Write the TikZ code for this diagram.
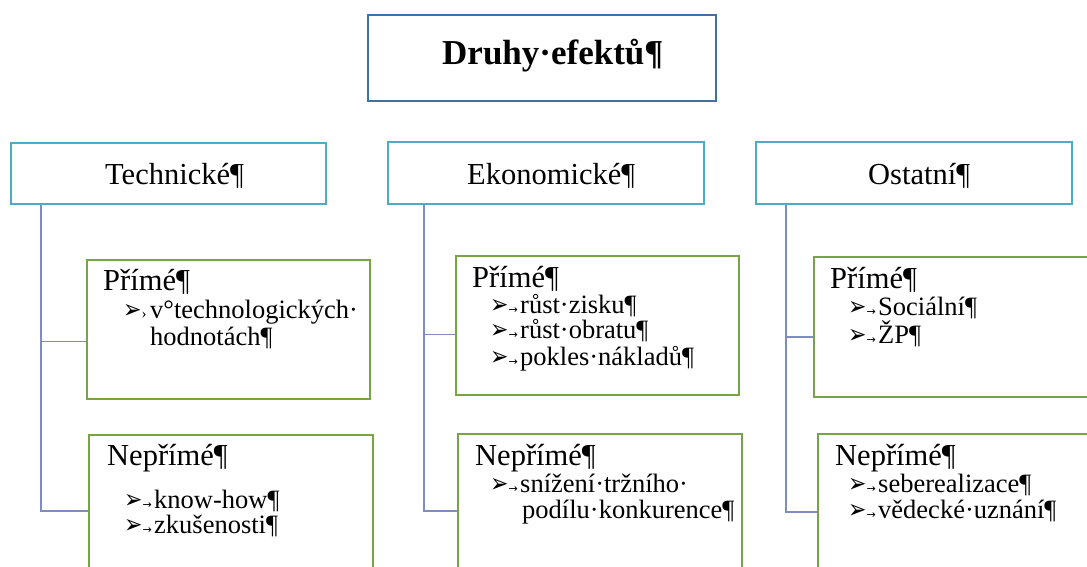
\documentclass[tikz,border=0pt]{standalone}
\usepackage{fontspec}
\usepackage{graphicx}
\setmainfont{Liberation Serif}
\newfontfamily\dvfont{DejaVu Sans}
\definecolor{topc}{HTML}{41719C}
\definecolor{midc}{HTML}{4BACC6}
\definecolor{grnc}{HTML}{77A543}
\definecolor{conc}{HTML}{7F8CC0}
\newcommand{\arrhd}{\scalebox{1}[1.2]{\dvfont\fontsize{22}{22}\selectfont ➢}}
\newcommand{\blt}{\makebox[30pt][l]{\arrhd{\dvfont\fontsize{11}{11}\selectfont →}}}
\newcommand{\bltb}{\makebox[27pt][l]{\arrhd{\fontsize{15}{15}\selectfont ›}}}
\begin{document}
\begin{tikzpicture}[x=1pt,y=-1pt,
  topbox/.style={draw=topc,line width=2.2pt,anchor=north west,inner sep=0pt},
  midbox/.style={draw=midc,line width=2.4pt,anchor=north west,inner sep=0pt},
  grnbox/.style={draw=grnc,line width=2pt,anchor=north west,inner sep=0pt},
  conn/.style={draw=conc,line width=1.3pt},
  toplbl/.style={anchor=base west,inner sep=0pt,font=\fontsize{35}{40}\selectfont\bfseries},
  hlbl/.style={anchor=base west,inner sep=0pt,font=\fontsize{30.5}{34}\selectfont},
  itm/.style={anchor=base west,inner sep=0pt,font=\fontsize{26.5}{28}\selectfont}]
\useasboundingbox (0,0) rectangle (1087,567);
\clip (0,0) rectangle (1087,567);

% top
\node[topbox,minimum width=348pt,minimum height=86pt] (top) at (367,14) {};
\node[toplbl] (toptxt) at (442,65) {Druhy·efektů¶};

% level 2
\node[midbox,minimum width=315pt,minimum height=61pt] (t) at (10,142) {};
\node[midbox,minimum width=316pt,minimum height=62pt] (e) at (387,141) {};
\node[midbox,minimum width=316pt,minimum height=62pt] (o) at (755,141) {};
\node[hlbl] (ttxt) at (105,185) {Technické¶};
\node[hlbl] (etxt) at (467,185) {Ekonomické¶};
\node[hlbl] (otxt) at (868,185) {Ostatní¶};

% level 3 boxes
\node[grnbox,minimum width=283pt,minimum height=139pt] (tp) at (86,259) {};
\node[grnbox,minimum width=284pt,minimum height=170pt] (tn) at (88,434) {};
\node[grnbox,minimum width=283pt,minimum height=139pt] (ep) at (455,255) {};
\node[grnbox,minimum width=284pt,minimum height=170pt] (en) at (457,433) {};
\node[grnbox,minimum width=300pt,minimum height=140pt] (op) at (813,256) {};
\node[grnbox,minimum width=300pt,minimum height=170pt] (on) at (817,433) {};

% connectors
\draw[conn] ([xshift=31pt]t.south west) |- ([yshift=-12pt]tp.west);
\draw[conn] ([xshift=31pt]t.south west) |- ([yshift=-77pt]tn.north west);
\draw[conn] ([xshift=37pt]e.south west) |- ([yshift=-9pt]ep.west);
\draw[conn] ([xshift=37pt]e.south west) |- ([yshift=-78pt]en.north west);
\draw[conn] ([xshift=31pt]o.south west) |- ([yshift=-10pt]op.west);
\draw[conn] ([xshift=31pt]o.south west) |- ([yshift=-79pt]on.north west);

% technicke texts
\node[hlbl] (tph) at (103,290) {Přímé¶};
\node[itm] (tp1) at (123,318) {\bltb v°technologických·};
\node[itm] (tp2) at (150,345) {hodnotách¶};
\node[hlbl] (tnh) at (107,465) {Nepřímé¶};
\node[itm] (tn1) at (124,508) {\blt know-how¶};
\node[itm] (tn2) at (124,533) {\blt zkušenosti¶};

% ekonomicke texts
\node[hlbl] (eph) at (472,287) {Přímé¶};
\node[itm] (ep1) at (490,313) {\blt růst·zisku¶};
\node[itm] (ep2) at (490,338) {\blt růst·obratu¶};
\node[itm] (ep3) at (490,365) {\blt pokles·nákladů¶};
\node[hlbl] (enh) at (475,465) {Nepřímé¶};
\node[itm] (en1) at (490,492) {\blt snížení·tržního·};
\node[itm] (en2) at (522,518) {podílu·konkurence¶};

% ostatni texts
\node[hlbl] (oph) at (830,288) {Přímé¶};
\node[itm] (op1) at (848,315) {\blt Sociální¶};
\node[itm] (op2) at (848,343) {\blt ŽP¶};
\node[hlbl] (onh) at (835,465) {Nepřímé¶};
\node[itm] (on1) at (848,492) {\blt seberealizace¶};
\node[itm] (on2) at (848,518) {\blt vědecké·uznání¶};
\end{tikzpicture}
\end{document}
